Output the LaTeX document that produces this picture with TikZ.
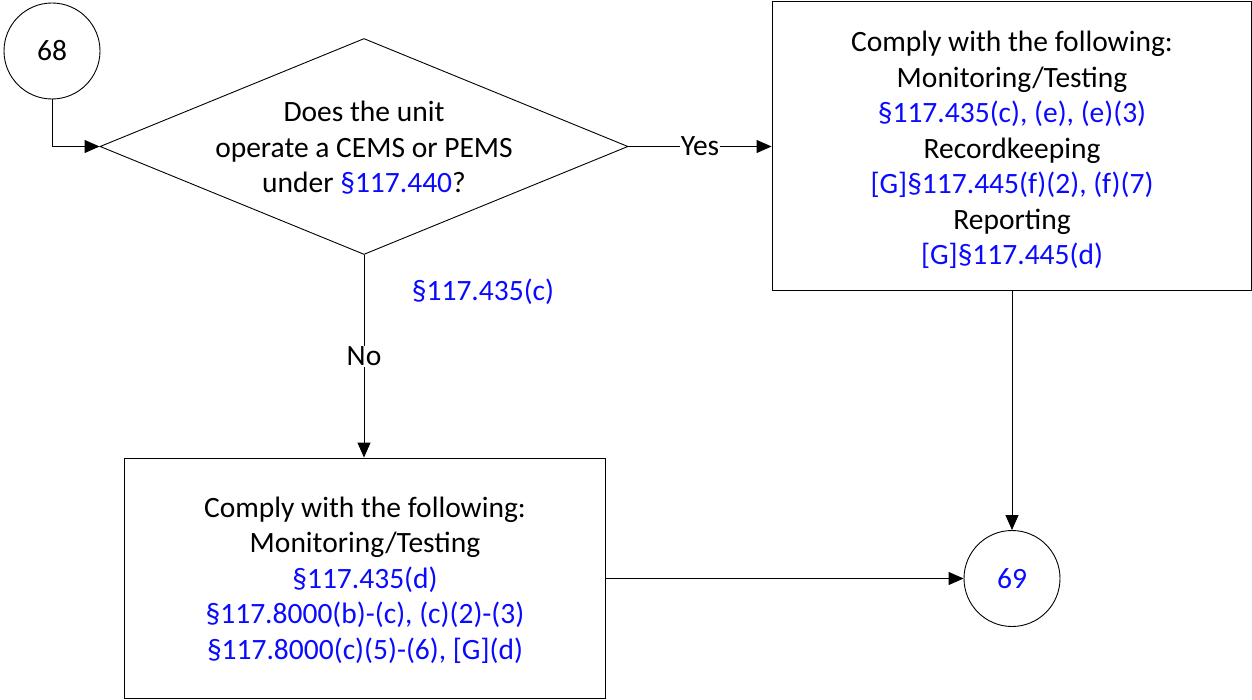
\documentclass[tikz,border=0pt]{standalone}
\usepackage{fontspec}
\setmainfont{Carlito}
\usetikzlibrary{shapes.geometric,arrows.meta}
\definecolor{refblue}{RGB}{10,10,255}
\begin{document}
\begin{tikzpicture}[x=1pt,y=-1pt,
  every node/.style={font=\fontsize{29.5}{35.5}\selectfont},
  conn/.style={draw=black,line width=0.9pt},
  arr/.style={conn,-{Triangle[length=15pt,width=13pt]}},
  termcirc/.style={draw=black,line width=0.9pt,circle,minimum size=96pt,inner sep=0pt},
  rectbox/.style={draw=black,line width=0.9pt,rectangle,inner sep=0pt},
  txt/.style={align=center,inner sep=0pt},
  lbl/.style={fill=white,inner sep=1pt},
  ref/.style={text=refblue}]
\useasboundingbox (0,0) rectangle (1252,700);
\node[termcirc] (c68) at (52,51) {68};
\node[draw=black,line width=0.9pt,diamond,minimum width=528pt,minimum height=216pt,inner sep=0pt] (dec) at (364,146.5) {};
\node[txt] (dectext) at (364,148) {Does the unit\\operate a CEMS or PEMS\\under \textcolor{refblue}{§117.440}?};
\node[rectbox,minimum width=479pt,minimum height=289pt] (boxA) at (1011.5,146) {};
\node[txt] (boxAtext) at (1012,150) {Comply with the following:\\Monitoring/Testing\\\textcolor{refblue}{§117.435(c), (e), (e)(3)}\\Recordkeeping\\\textcolor{refblue}{[G]§117.445(f)(2), (f)(7)}\\Reporting\\\textcolor{refblue}{[G]§117.445(d)}};
\node[rectbox,minimum width=481pt,minimum height=240pt] (boxB) at (364.5,578) {};
\node[txt] (boxBtext) at (365,580) {Comply with the following:\\Monitoring/Testing\\\textcolor{refblue}{§117.435(d)}\\\textcolor{refblue}{§117.8000(b)-(c), (c)(2)-(3)}\\\textcolor{refblue}{§117.8000(c)(5)-(6), [G](d)}};
\node[termcirc,ref] (c69) at (1012,578.5) {69};
\coordinate (bend) at (52,146.5);
\draw[conn] (c68.south) -- (bend);
\draw[arr] (bend) -- (dec.west);
\draw[arr] (dec.east) -- node[lbl] (yes) {Yes} (boxA.west |- dec.east);
\draw[arr] (dec.south) -- node[lbl,pos=0.5] (no) {No} (boxB.north -| dec.south);
\node[ref,inner sep=0pt] (reflbl) at (483,292) {§117.435(c)};
\draw[arr] (boxA.south -| c69.north) -- (c69.north);
\draw[arr] (boxB.east |- c69.west) -- (c69.west);
\end{tikzpicture}
\end{document}
